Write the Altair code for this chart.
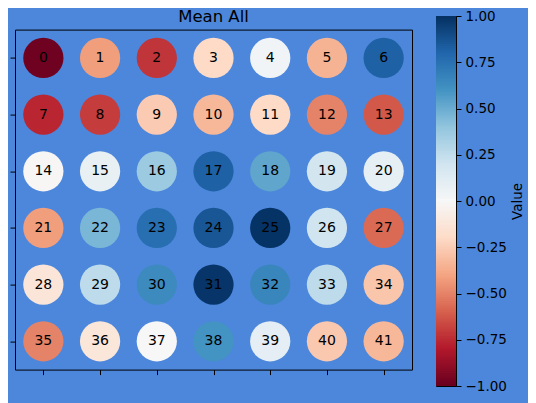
import altair as alt
import pandas as pd
import numpy as np

BG = "#4c87dc"
FONT = "DejaVu Sans"

# Mean value for each of the 42 cells (read row by row, 7 per row)
values = [
    -0.98, -0.42, -0.72, -0.20, 0.03, -0.35, 0.82,
    -0.76, -0.70, -0.26, -0.33, -0.20, -0.50, -0.62,
    -0.01, 0.08, 0.37, 0.82, 0.53, 0.19, 0.09,
    -0.42, 0.46, 0.76, 0.86, 0.99, 0.20, -0.57,
    -0.13, 0.26, 0.64, 0.98, 0.66, 0.26, -0.28,
    -0.50, -0.12, 0.00, 0.60, 0.10, -0.27, -0.33,
]
n_cols = 7
n_rows = 6
labels = [str(i) for i in range(len(values))]
cols = [i % n_cols for i in range(len(values))]
rows = [i // n_cols for i in range(len(values))]
cb_ticks = [-1.0, -0.75, -0.5, -0.25, 0.0, 0.25, 0.5, 0.75, 1.0]
titles = ["Mean All"]

# matplotlib RdBu colormap anchor colours
rdbu_domain = [-1.0, -0.8, -0.6, -0.4, -0.2, 0.0, 0.2, 0.4, 0.6, 0.8, 1.0]
rdbu_range = ["#67001f", "#b2182b", "#d6604d", "#f4a582", "#fddbc7", "#f7f7f7",
              "#d1e5f0", "#92c5de", "#4393c3", "#2166ac", "#053061"]

df = pd.DataFrame({"col": cols, "row": rows, "value": values, "label": labels})

# colorbar gradient strips (overlapping slightly to avoid seams)
levels = np.linspace(-1, 1, 201)
step = levels[1] - levels[0]
cb = pd.DataFrame({
    "lo": levels[:-1],
    "hi": np.minimum(levels[:-1] + 2 * step, 1.0),
    "mid": (levels[:-1] + levels[1:]) / 2,
})

color_scale = alt.Scale(domain=rdbu_domain, range=rdbu_range, interpolate="rgb")

x_enc = alt.X(
    "col:Q",
    scale=alt.Scale(domain=[-0.5, n_cols - 0.5], nice=False, zero=False),
    axis=alt.Axis(values=list(range(n_cols)), labels=False, title=None, grid=False,
                  tickSize=5, tickColor="black", domain=False),
)
y_enc = alt.Y(
    "row:Q",
    scale=alt.Scale(domain=[-0.5, n_rows - 0.5], nice=False, zero=False, reverse=True),
    axis=alt.Axis(values=list(range(n_rows)), labels=False, title=None, grid=False,
                  tickSize=5, tickColor="black", domain=False),
)

base = alt.Chart(df).encode(x=x_enc, y=y_enc)
circles = base.mark_circle(size=1620, opacity=1).encode(
    color=alt.Color("value:Q", scale=color_scale, legend=None)
)
texts = base.mark_text(fontSize=14, font=FONT, color="black", align="center", baseline="middle").encode(
    text="label:N"
)
main = alt.layer(circles, texts).properties(width=397, height=340)

# title row (aligned with the top of the colorbar)
title_chart = alt.Chart(pd.DataFrame({"t": titles})).mark_text(
    fontSize=16.5, font=FONT, color="black", align="center", baseline="middle"
).encode(text="t:N").properties(width=397, height=2, view=alt.ViewBackground(stroke="transparent"))

left_col = alt.vconcat(title_chart, main, spacing=2.6)

colorbar = alt.Chart(cb).mark_rect().encode(
    y=alt.Y("lo:Q", scale=alt.Scale(domain=[-1, 1], nice=False, zero=False),
            axis=alt.Axis(orient="right", values=cb_ticks, format=".2f", title="Value",
                          titleAngle=270, titleFont=FONT, titleFontSize=13.5,
                          titleFontWeight="normal", titleColor="black", titlePadding=18,
                          labelFont=FONT, labelFontSize=13.5, labelColor="black",
                          labelPadding=4, tickSize=5, tickColor="black", grid=False,
                          domain=False)),
    y2="hi:Q",
    color=alt.Color("mid:Q", scale=color_scale, legend=None),
).properties(width=20, height=370)

chart = alt.hconcat(left_col, colorbar, spacing=22).properties(
    padding={"left": 1, "top": 0, "right": 3, "bottom": 12},
    background=BG,
).configure_view(stroke="black", strokeWidth=1).configure_axis(labelFont=FONT, titleFont=FONT)

chart.save("out.html", embed_options={"renderer": "svg", "actions": False})
